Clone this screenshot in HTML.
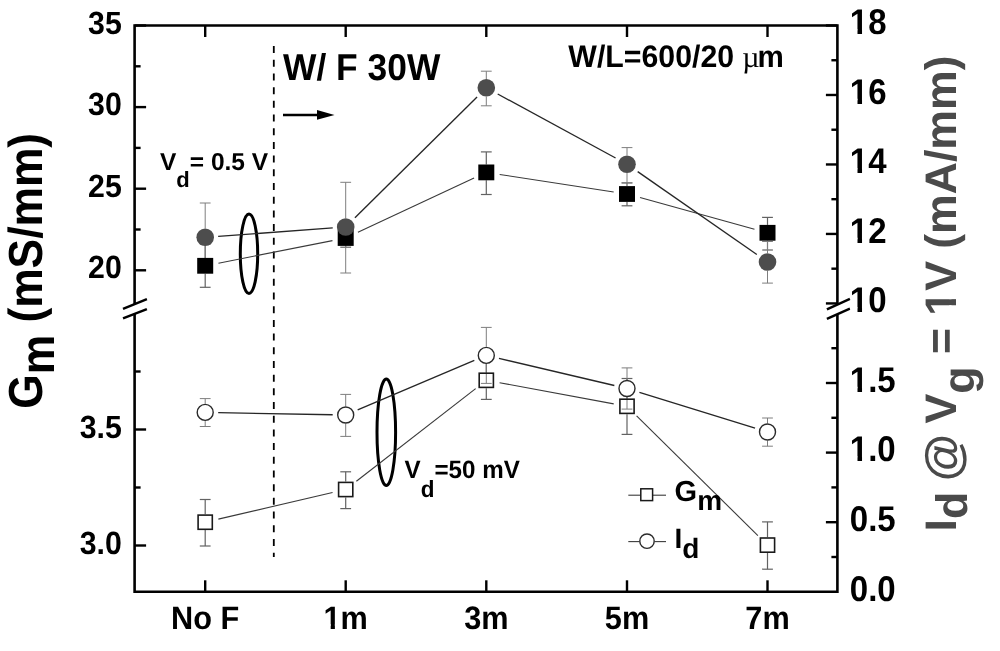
<!DOCTYPE html>
<html><head><meta charset="utf-8"><style>
html,body{margin:0;padding:0;background:#fff;}
body{width:1000px;height:651px;overflow:hidden;}
svg{display:block;will-change:transform;}
</style></head><body>
<svg width="1000" height="651" viewBox="0 0 1000 651">
<rect width="1000" height="651" fill="#fff"/>
<path d="M134.6,304.0 L134.6,25.5 L837.4,25.5 L837.4,304.5" fill="none" stroke="#000" stroke-width="2.6" stroke-linejoin="miter"/>
<path d="M134.6,313.7 L134.6,591.8 L837.4,591.8 L837.4,314.2" fill="none" stroke="#000" stroke-width="2.6" stroke-linejoin="miter"/>
<line x1="123.00" y1="308.80" x2="146.90" y2="299.20" stroke="#000" stroke-width="2.4" />
<line x1="123.00" y1="318.40" x2="146.90" y2="309.10" stroke="#000" stroke-width="2.4" />
<line x1="826.90" y1="309.30" x2="849.90" y2="298.90" stroke="#000" stroke-width="2.4" />
<line x1="826.90" y1="318.90" x2="849.90" y2="308.70" stroke="#000" stroke-width="2.4" />
<line x1="205.20" y1="591.80" x2="205.20" y2="580.30" stroke="#000" stroke-width="2.4" />
<line x1="205.20" y1="25.50" x2="205.20" y2="37.00" stroke="#000" stroke-width="2.4" />
<line x1="345.70" y1="591.80" x2="345.70" y2="580.30" stroke="#000" stroke-width="2.4" />
<line x1="345.70" y1="25.50" x2="345.70" y2="37.00" stroke="#000" stroke-width="2.4" />
<line x1="486.30" y1="591.80" x2="486.30" y2="580.30" stroke="#000" stroke-width="2.4" />
<line x1="486.30" y1="25.50" x2="486.30" y2="37.00" stroke="#000" stroke-width="2.4" />
<line x1="627.00" y1="591.80" x2="627.00" y2="580.30" stroke="#000" stroke-width="2.4" />
<line x1="627.00" y1="25.50" x2="627.00" y2="37.00" stroke="#000" stroke-width="2.4" />
<line x1="767.50" y1="591.80" x2="767.50" y2="580.30" stroke="#000" stroke-width="2.4" />
<line x1="767.50" y1="25.50" x2="767.50" y2="37.00" stroke="#000" stroke-width="2.4" />
<line x1="134.60" y1="25.50" x2="146.10" y2="25.50" stroke="#000" stroke-width="2.4" />
<line x1="134.60" y1="107.10" x2="146.10" y2="107.10" stroke="#000" stroke-width="2.4" />
<line x1="134.60" y1="188.70" x2="146.10" y2="188.70" stroke="#000" stroke-width="2.4" />
<line x1="134.60" y1="270.30" x2="146.10" y2="270.30" stroke="#000" stroke-width="2.4" />
<line x1="134.60" y1="66.30" x2="140.60" y2="66.30" stroke="#000" stroke-width="2.4" />
<line x1="134.60" y1="147.90" x2="140.60" y2="147.90" stroke="#000" stroke-width="2.4" />
<line x1="134.60" y1="229.50" x2="140.60" y2="229.50" stroke="#000" stroke-width="2.4" />
<line x1="134.60" y1="429.50" x2="146.10" y2="429.50" stroke="#000" stroke-width="2.4" />
<line x1="134.60" y1="545.50" x2="146.10" y2="545.50" stroke="#000" stroke-width="2.4" />
<line x1="134.60" y1="371.50" x2="140.60" y2="371.50" stroke="#000" stroke-width="2.4" />
<line x1="134.60" y1="487.50" x2="140.60" y2="487.50" stroke="#000" stroke-width="2.4" />
<line x1="837.40" y1="25.50" x2="825.90" y2="25.50" stroke="#000" stroke-width="2.4" />
<line x1="837.40" y1="94.98" x2="825.90" y2="94.98" stroke="#000" stroke-width="2.4" />
<line x1="837.40" y1="164.46" x2="825.90" y2="164.46" stroke="#000" stroke-width="2.4" />
<line x1="837.40" y1="233.94" x2="825.90" y2="233.94" stroke="#000" stroke-width="2.4" />
<line x1="837.40" y1="303.42" x2="825.90" y2="303.42" stroke="#000" stroke-width="2.4" />
<line x1="837.40" y1="60.24" x2="831.40" y2="60.24" stroke="#000" stroke-width="2.4" />
<line x1="837.40" y1="129.72" x2="831.40" y2="129.72" stroke="#000" stroke-width="2.4" />
<line x1="837.40" y1="199.20" x2="831.40" y2="199.20" stroke="#000" stroke-width="2.4" />
<line x1="837.40" y1="268.68" x2="831.40" y2="268.68" stroke="#000" stroke-width="2.4" />
<line x1="837.40" y1="522.20" x2="825.90" y2="522.20" stroke="#000" stroke-width="2.4" />
<line x1="837.40" y1="452.60" x2="825.90" y2="452.60" stroke="#000" stroke-width="2.4" />
<line x1="837.40" y1="383.00" x2="825.90" y2="383.00" stroke="#000" stroke-width="2.4" />
<line x1="837.40" y1="557.00" x2="831.40" y2="557.00" stroke="#000" stroke-width="2.4" />
<line x1="837.40" y1="487.40" x2="831.40" y2="487.40" stroke="#000" stroke-width="2.4" />
<line x1="837.40" y1="417.80" x2="831.40" y2="417.80" stroke="#000" stroke-width="2.4" />
<line x1="837.40" y1="348.20" x2="831.40" y2="348.20" stroke="#000" stroke-width="2.4" />
<text transform="translate(121.80,33.50) scale(1.0,1.06)" font-family="&quot;Liberation Sans&quot;, sans-serif" font-weight="bold" font-size="30.3" text-anchor="end" fill="#000" text-rendering="geometricPrecision" style="font-kerning:none" xml:space="preserve">35</text>
<text transform="translate(121.80,115.10) scale(1.0,1.06)" font-family="&quot;Liberation Sans&quot;, sans-serif" font-weight="bold" font-size="30.3" text-anchor="end" fill="#000" text-rendering="geometricPrecision" style="font-kerning:none" xml:space="preserve">30</text>
<text transform="translate(121.80,196.70) scale(1.0,1.06)" font-family="&quot;Liberation Sans&quot;, sans-serif" font-weight="bold" font-size="30.3" text-anchor="end" fill="#000" text-rendering="geometricPrecision" style="font-kerning:none" xml:space="preserve">25</text>
<text transform="translate(121.80,278.30) scale(1.0,1.06)" font-family="&quot;Liberation Sans&quot;, sans-serif" font-weight="bold" font-size="30.3" text-anchor="end" fill="#000" text-rendering="geometricPrecision" style="font-kerning:none" xml:space="preserve">20</text>
<text transform="translate(121.80,437.50) scale(1.0,1.06)" font-family="&quot;Liberation Sans&quot;, sans-serif" font-weight="bold" font-size="30.3" text-anchor="end" fill="#000" text-rendering="geometricPrecision" style="font-kerning:none" xml:space="preserve">3.5</text>
<text transform="translate(121.80,553.50) scale(1.0,1.06)" font-family="&quot;Liberation Sans&quot;, sans-serif" font-weight="bold" font-size="30.3" text-anchor="end" fill="#000" text-rendering="geometricPrecision" style="font-kerning:none" xml:space="preserve">3.0</text>
<text transform="translate(849.80,34.30) scale(1.0,1.08)" font-family="&quot;Liberation Sans&quot;, sans-serif" font-weight="bold" font-size="33" text-anchor="start" fill="#000" text-rendering="geometricPrecision" style="font-kerning:none" xml:space="preserve">18</text>
<text transform="translate(849.80,103.78) scale(1.0,1.08)" font-family="&quot;Liberation Sans&quot;, sans-serif" font-weight="bold" font-size="33" text-anchor="start" fill="#000" text-rendering="geometricPrecision" style="font-kerning:none" xml:space="preserve">16</text>
<text transform="translate(849.80,173.26) scale(1.0,1.08)" font-family="&quot;Liberation Sans&quot;, sans-serif" font-weight="bold" font-size="33" text-anchor="start" fill="#000" text-rendering="geometricPrecision" style="font-kerning:none" xml:space="preserve">14</text>
<text transform="translate(849.80,242.74) scale(1.0,1.08)" font-family="&quot;Liberation Sans&quot;, sans-serif" font-weight="bold" font-size="33" text-anchor="start" fill="#000" text-rendering="geometricPrecision" style="font-kerning:none" xml:space="preserve">12</text>
<text transform="translate(849.80,312.22) scale(1.0,1.08)" font-family="&quot;Liberation Sans&quot;, sans-serif" font-weight="bold" font-size="33" text-anchor="start" fill="#000" text-rendering="geometricPrecision" style="font-kerning:none" xml:space="preserve">10</text>
<text transform="translate(849.80,391.80) scale(1.0,1.08)" font-family="&quot;Liberation Sans&quot;, sans-serif" font-weight="bold" font-size="33" text-anchor="start" fill="#000" text-rendering="geometricPrecision" style="font-kerning:none" xml:space="preserve">1.5</text>
<text transform="translate(849.80,461.40) scale(1.0,1.08)" font-family="&quot;Liberation Sans&quot;, sans-serif" font-weight="bold" font-size="33" text-anchor="start" fill="#000" text-rendering="geometricPrecision" style="font-kerning:none" xml:space="preserve">1.0</text>
<text transform="translate(849.80,531.00) scale(1.0,1.08)" font-family="&quot;Liberation Sans&quot;, sans-serif" font-weight="bold" font-size="33" text-anchor="start" fill="#000" text-rendering="geometricPrecision" style="font-kerning:none" xml:space="preserve">0.5</text>
<text transform="translate(849.80,600.60) scale(1.0,1.08)" font-family="&quot;Liberation Sans&quot;, sans-serif" font-weight="bold" font-size="33" text-anchor="start" fill="#000" text-rendering="geometricPrecision" style="font-kerning:none" xml:space="preserve">0.0</text>
<text transform="translate(205.20,628.80) scale(1.0,1.06)" font-family="&quot;Liberation Sans&quot;, sans-serif" font-weight="bold" font-size="30.7" text-anchor="middle" fill="#000" text-rendering="geometricPrecision" style="font-kerning:none" xml:space="preserve">No F</text>
<text transform="translate(345.70,628.80) scale(1.0,1.06)" font-family="&quot;Liberation Sans&quot;, sans-serif" font-weight="bold" font-size="30.7" text-anchor="middle" fill="#000" text-rendering="geometricPrecision" style="font-kerning:none" xml:space="preserve">1m</text>
<text transform="translate(486.30,628.80) scale(1.0,1.06)" font-family="&quot;Liberation Sans&quot;, sans-serif" font-weight="bold" font-size="30.7" text-anchor="middle" fill="#000" text-rendering="geometricPrecision" style="font-kerning:none" xml:space="preserve">3m</text>
<text transform="translate(627.00,628.80) scale(1.0,1.06)" font-family="&quot;Liberation Sans&quot;, sans-serif" font-weight="bold" font-size="30.7" text-anchor="middle" fill="#000" text-rendering="geometricPrecision" style="font-kerning:none" xml:space="preserve">5m</text>
<text transform="translate(767.50,628.80) scale(1.0,1.06)" font-family="&quot;Liberation Sans&quot;, sans-serif" font-weight="bold" font-size="30.7" text-anchor="middle" fill="#000" text-rendering="geometricPrecision" style="font-kerning:none" xml:space="preserve">7m</text>
<text transform="translate(42.20,408.80) rotate(-90) scale(0.985,1.062)" font-family="&quot;Liberation Sans&quot;, sans-serif" font-weight="bold" font-size="45" text-anchor="start" fill="#000" text-rendering="geometricPrecision" style="font-kerning:none" xml:space="preserve">G<tspan dy="11">m</tspan><tspan dy="-11"> (mS/mm)</tspan></text>
<text transform="translate(955.50,531.40) rotate(-90) scale(1.0,0.99)" font-family="&quot;Liberation Sans&quot;, sans-serif" font-weight="bold" font-size="44.6" text-anchor="start" fill="#4a4a4a" text-rendering="geometricPrecision" style="font-kerning:none" xml:space="preserve">I<tspan dy="12">d</tspan><tspan dy="-12"> </tspan><tspan font-size="48.5" dx="-1.9" dy="4">@</tspan><tspan dx="-1.9" dy="-4"> V</tspan><tspan dy="19">g</tspan><tspan dy="-19"> = 1V (mA/mm)</tspan></text>
<line x1="273.8" y1="46.1" x2="273.8" y2="557" stroke="#000" stroke-width="1.8" stroke-dasharray="7 6.69"/>
<text transform="translate(283.00,80.10) scale(1,1.055)" font-family="&quot;Liberation Sans&quot;, sans-serif" font-weight="bold" font-size="35.4" text-anchor="start" fill="#000" text-rendering="geometricPrecision" style="font-kerning:none" xml:space="preserve">W/ F 30W</text>
<line x1="283.00" y1="115.00" x2="320.00" y2="115.00" stroke="#000" stroke-width="2.6" />
<path d="M317,110 L334.5,115 L317,119.8 Z" fill="#000"/>
<text transform="translate(568.30,66.70) scale(1,1.03)" font-family="&quot;Liberation Sans&quot;, sans-serif" font-weight="bold" font-size="30.3" text-anchor="start" fill="#000" text-rendering="geometricPrecision" style="font-kerning:none" xml:space="preserve">W/L=600/20</text>
<text transform="translate(742.30,66.70)" font-family="&quot;Liberation Serif&quot;, serif" font-size="30" text-anchor="start" fill="#000" text-rendering="geometricPrecision" style="font-kerning:none" xml:space="preserve"><tspan font-family="&quot;Liberation Serif&quot;, serif" font-weight="normal">µ</tspan></text>
<text transform="translate(757.60,66.70) scale(1,1.04)" font-family="&quot;Liberation Sans&quot;, sans-serif" font-weight="bold" font-size="29.6" text-anchor="start" fill="#000" text-rendering="geometricPrecision" style="font-kerning:none" xml:space="preserve">m</text>
<text transform="translate(160.00,169.50)" font-family="&quot;Liberation Sans&quot;, sans-serif" font-weight="bold" font-size="24.5" text-anchor="start" fill="#000" text-rendering="geometricPrecision" style="font-kerning:none" xml:space="preserve">V<tspan font-size="22" dy="17.3">d</tspan><tspan dy="-17.3">= 0.5 V</tspan></text>
<text transform="translate(404.50,478.00) scale(1,1.04)" font-family="&quot;Liberation Sans&quot;, sans-serif" font-weight="bold" font-size="24.2" text-anchor="start" fill="#000" text-rendering="geometricPrecision" style="font-kerning:none" xml:space="preserve">V<tspan font-size="22.5" dy="18">d</tspan><tspan dy="-18">=50 mV</tspan></text>
<ellipse cx="249" cy="253.8" rx="8.7" ry="39.7" fill="none" stroke="#000" stroke-width="3"/>
<ellipse cx="386.3" cy="432.3" rx="9.3" ry="53.2" fill="none" stroke="#000" stroke-width="3"/>
<line x1="205.20" y1="244.30" x2="205.20" y2="257.90" stroke="#626262" stroke-width="1.2" />
<line x1="205.20" y1="273.70" x2="205.20" y2="287.30" stroke="#626262" stroke-width="1.2" />
<line x1="199.80" y1="244.30" x2="210.60" y2="244.30" stroke="#626262" stroke-width="1.2" />
<line x1="199.80" y1="287.30" x2="210.60" y2="287.30" stroke="#626262" stroke-width="1.2" />
<line x1="345.70" y1="228.00" x2="345.70" y2="230.10" stroke="#626262" stroke-width="1.2" />
<line x1="345.70" y1="245.90" x2="345.70" y2="247.20" stroke="#626262" stroke-width="1.2" />
<line x1="340.30" y1="228.00" x2="351.10" y2="228.00" stroke="#626262" stroke-width="1.2" />
<line x1="340.30" y1="247.20" x2="351.10" y2="247.20" stroke="#626262" stroke-width="1.2" />
<line x1="486.30" y1="151.90" x2="486.30" y2="164.50" stroke="#626262" stroke-width="1.2" />
<line x1="486.30" y1="180.30" x2="486.30" y2="194.50" stroke="#626262" stroke-width="1.2" />
<line x1="480.90" y1="151.90" x2="491.70" y2="151.90" stroke="#626262" stroke-width="1.2" />
<line x1="480.90" y1="194.50" x2="491.70" y2="194.50" stroke="#626262" stroke-width="1.2" />
<line x1="627.00" y1="182.90" x2="627.00" y2="186.10" stroke="#626262" stroke-width="1.2" />
<line x1="627.00" y1="201.90" x2="627.00" y2="205.80" stroke="#626262" stroke-width="1.2" />
<line x1="621.60" y1="182.90" x2="632.40" y2="182.90" stroke="#626262" stroke-width="1.2" />
<line x1="621.60" y1="205.80" x2="632.40" y2="205.80" stroke="#626262" stroke-width="1.2" />
<line x1="767.50" y1="217.40" x2="767.50" y2="224.90" stroke="#626262" stroke-width="1.2" />
<line x1="767.50" y1="240.70" x2="767.50" y2="250.00" stroke="#626262" stroke-width="1.2" />
<line x1="762.10" y1="217.40" x2="772.90" y2="217.40" stroke="#626262" stroke-width="1.2" />
<line x1="762.10" y1="250.00" x2="772.90" y2="250.00" stroke="#626262" stroke-width="1.2" />
<line x1="205.20" y1="203.00" x2="205.20" y2="228.50" stroke="#7e7e7e" stroke-width="1.0" />
<line x1="205.20" y1="246.10" x2="205.20" y2="271.50" stroke="#7e7e7e" stroke-width="1.0" />
<line x1="199.80" y1="203.00" x2="210.60" y2="203.00" stroke="#7e7e7e" stroke-width="1.0" />
<line x1="199.80" y1="271.50" x2="210.60" y2="271.50" stroke="#7e7e7e" stroke-width="1.0" />
<line x1="345.70" y1="182.30" x2="345.70" y2="218.20" stroke="#7e7e7e" stroke-width="1.0" />
<line x1="345.70" y1="235.80" x2="345.70" y2="273.00" stroke="#7e7e7e" stroke-width="1.0" />
<line x1="340.30" y1="182.30" x2="351.10" y2="182.30" stroke="#7e7e7e" stroke-width="1.0" />
<line x1="340.30" y1="273.00" x2="351.10" y2="273.00" stroke="#7e7e7e" stroke-width="1.0" />
<line x1="486.30" y1="71.20" x2="486.30" y2="79.00" stroke="#7e7e7e" stroke-width="1.0" />
<line x1="486.30" y1="96.60" x2="486.30" y2="105.80" stroke="#7e7e7e" stroke-width="1.0" />
<line x1="480.90" y1="71.20" x2="491.70" y2="71.20" stroke="#7e7e7e" stroke-width="1.0" />
<line x1="480.90" y1="105.80" x2="491.70" y2="105.80" stroke="#7e7e7e" stroke-width="1.0" />
<line x1="627.00" y1="147.60" x2="627.00" y2="155.40" stroke="#7e7e7e" stroke-width="1.0" />
<line x1="627.00" y1="173.00" x2="627.00" y2="182.90" stroke="#7e7e7e" stroke-width="1.0" />
<line x1="621.60" y1="147.60" x2="632.40" y2="147.60" stroke="#7e7e7e" stroke-width="1.0" />
<line x1="621.60" y1="182.90" x2="632.40" y2="182.90" stroke="#7e7e7e" stroke-width="1.0" />
<line x1="767.50" y1="241.50" x2="767.50" y2="253.20" stroke="#7e7e7e" stroke-width="1.0" />
<line x1="767.50" y1="270.80" x2="767.50" y2="283.10" stroke="#7e7e7e" stroke-width="1.0" />
<line x1="762.10" y1="241.50" x2="772.90" y2="241.50" stroke="#7e7e7e" stroke-width="1.0" />
<line x1="762.10" y1="283.10" x2="772.90" y2="283.10" stroke="#7e7e7e" stroke-width="1.0" />
<line x1="205.20" y1="499.50" x2="205.20" y2="514.30" stroke="#626262" stroke-width="1.2" />
<line x1="205.20" y1="530.10" x2="205.20" y2="546.00" stroke="#626262" stroke-width="1.2" />
<line x1="199.80" y1="499.50" x2="210.60" y2="499.50" stroke="#626262" stroke-width="1.2" />
<line x1="199.80" y1="546.00" x2="210.60" y2="546.00" stroke="#626262" stroke-width="1.2" />
<line x1="345.70" y1="471.80" x2="345.70" y2="481.60" stroke="#626262" stroke-width="1.2" />
<line x1="345.70" y1="497.40" x2="345.70" y2="508.60" stroke="#626262" stroke-width="1.2" />
<line x1="340.30" y1="471.80" x2="351.10" y2="471.80" stroke="#626262" stroke-width="1.2" />
<line x1="340.30" y1="508.60" x2="351.10" y2="508.60" stroke="#626262" stroke-width="1.2" />
<line x1="486.30" y1="361.30" x2="486.30" y2="372.40" stroke="#626262" stroke-width="1.2" />
<line x1="486.30" y1="388.20" x2="486.30" y2="399.40" stroke="#626262" stroke-width="1.2" />
<line x1="480.90" y1="361.30" x2="491.70" y2="361.30" stroke="#626262" stroke-width="1.2" />
<line x1="480.90" y1="399.40" x2="491.70" y2="399.40" stroke="#626262" stroke-width="1.2" />
<line x1="627.00" y1="378.50" x2="627.00" y2="398.40" stroke="#626262" stroke-width="1.2" />
<line x1="627.00" y1="414.20" x2="627.00" y2="434.40" stroke="#626262" stroke-width="1.2" />
<line x1="621.60" y1="378.50" x2="632.40" y2="378.50" stroke="#626262" stroke-width="1.2" />
<line x1="621.60" y1="434.40" x2="632.40" y2="434.40" stroke="#626262" stroke-width="1.2" />
<line x1="767.50" y1="521.90" x2="767.50" y2="537.20" stroke="#626262" stroke-width="1.2" />
<line x1="767.50" y1="553.00" x2="767.50" y2="569.20" stroke="#626262" stroke-width="1.2" />
<line x1="762.10" y1="521.90" x2="772.90" y2="521.90" stroke="#626262" stroke-width="1.2" />
<line x1="762.10" y1="569.20" x2="772.90" y2="569.20" stroke="#626262" stroke-width="1.2" />
<line x1="205.20" y1="398.60" x2="205.20" y2="403.70" stroke="#7e7e7e" stroke-width="1.0" />
<line x1="205.20" y1="421.10" x2="205.20" y2="426.50" stroke="#7e7e7e" stroke-width="1.0" />
<line x1="199.80" y1="398.60" x2="210.60" y2="398.60" stroke="#7e7e7e" stroke-width="1.0" />
<line x1="199.80" y1="426.50" x2="210.60" y2="426.50" stroke="#7e7e7e" stroke-width="1.0" />
<line x1="345.70" y1="394.40" x2="345.70" y2="406.30" stroke="#7e7e7e" stroke-width="1.0" />
<line x1="345.70" y1="423.70" x2="345.70" y2="436.40" stroke="#7e7e7e" stroke-width="1.0" />
<line x1="340.30" y1="394.40" x2="351.10" y2="394.40" stroke="#7e7e7e" stroke-width="1.0" />
<line x1="340.30" y1="436.40" x2="351.10" y2="436.40" stroke="#7e7e7e" stroke-width="1.0" />
<line x1="486.30" y1="327.40" x2="486.30" y2="346.70" stroke="#7e7e7e" stroke-width="1.0" />
<line x1="486.30" y1="364.10" x2="486.30" y2="383.40" stroke="#7e7e7e" stroke-width="1.0" />
<line x1="480.90" y1="327.40" x2="491.70" y2="327.40" stroke="#7e7e7e" stroke-width="1.0" />
<line x1="480.90" y1="383.40" x2="491.70" y2="383.40" stroke="#7e7e7e" stroke-width="1.0" />
<line x1="627.00" y1="367.90" x2="627.00" y2="379.80" stroke="#7e7e7e" stroke-width="1.0" />
<line x1="627.00" y1="397.20" x2="627.00" y2="409.10" stroke="#7e7e7e" stroke-width="1.0" />
<line x1="621.60" y1="367.90" x2="632.40" y2="367.90" stroke="#7e7e7e" stroke-width="1.0" />
<line x1="621.60" y1="409.10" x2="632.40" y2="409.10" stroke="#7e7e7e" stroke-width="1.0" />
<line x1="767.50" y1="418.00" x2="767.50" y2="423.30" stroke="#7e7e7e" stroke-width="1.0" />
<line x1="767.50" y1="440.70" x2="767.50" y2="446.20" stroke="#7e7e7e" stroke-width="1.0" />
<line x1="762.10" y1="418.00" x2="772.90" y2="418.00" stroke="#7e7e7e" stroke-width="1.0" />
<line x1="762.10" y1="446.20" x2="772.90" y2="446.20" stroke="#7e7e7e" stroke-width="1.0" />
<line x1="218.44" y1="263.18" x2="332.46" y2="240.62" stroke="#3a3a3a" stroke-width="1.1" />
<line x1="357.93" y1="232.29" x2="474.07" y2="178.11" stroke="#3a3a3a" stroke-width="1.1" />
<line x1="499.64" y1="174.45" x2="613.66" y2="191.95" stroke="#3a3a3a" stroke-width="1.1" />
<line x1="640.01" y1="197.59" x2="754.49" y2="229.21" stroke="#3a3a3a" stroke-width="1.1" />
<rect x="197.20" y="257.90" width="16" height="15.8" fill="#000"/>
<rect x="337.70" y="230.10" width="16" height="15.8" fill="#000"/>
<rect x="478.30" y="164.50" width="16" height="15.8" fill="#000"/>
<rect x="619.00" y="186.10" width="16" height="15.8" fill="#000"/>
<rect x="759.50" y="224.90" width="16" height="15.8" fill="#000"/>
<line x1="218.17" y1="236.35" x2="332.73" y2="227.95" stroke="#262626" stroke-width="1.35" />
<line x1="354.94" y1="217.85" x2="477.06" y2="96.95" stroke="#262626" stroke-width="1.35" />
<line x1="497.72" y1="94.00" x2="615.58" y2="158.00" stroke="#262626" stroke-width="1.35" />
<line x1="637.67" y1="171.63" x2="756.83" y2="254.57" stroke="#262626" stroke-width="1.35" />
<circle cx="205.20" cy="237.30" r="8.8" fill="#4d4d4d"/>
<circle cx="345.70" cy="227.00" r="8.8" fill="#4d4d4d"/>
<circle cx="486.30" cy="87.80" r="8.8" fill="#4d4d4d"/>
<circle cx="627.00" cy="164.20" r="8.8" fill="#4d4d4d"/>
<circle cx="767.50" cy="262.00" r="8.8" fill="#4d4d4d"/>
<line x1="218.35" y1="519.14" x2="332.55" y2="492.56" stroke="#3a3a3a" stroke-width="1.1" />
<line x1="356.36" y1="481.22" x2="475.64" y2="388.58" stroke="#3a3a3a" stroke-width="1.1" />
<line x1="499.58" y1="382.75" x2="613.72" y2="403.85" stroke="#3a3a3a" stroke-width="1.1" />
<line x1="636.60" y1="415.79" x2="757.90" y2="535.61" stroke="#3a3a3a" stroke-width="1.1" />
<rect x="198.10" y="515.10" width="14.2" height="14.2" fill="none" stroke="#1a1a1a" stroke-width="1.6"/>
<rect x="338.60" y="482.40" width="14.2" height="14.2" fill="none" stroke="#1a1a1a" stroke-width="1.6"/>
<rect x="479.20" y="373.20" width="14.2" height="14.2" fill="none" stroke="#1a1a1a" stroke-width="1.6"/>
<rect x="619.90" y="399.20" width="14.2" height="14.2" fill="none" stroke="#1a1a1a" stroke-width="1.6"/>
<rect x="760.40" y="538.00" width="14.2" height="14.2" fill="none" stroke="#1a1a1a" stroke-width="1.6"/>
<line x1="218.20" y1="412.64" x2="332.70" y2="414.76" stroke="#262626" stroke-width="1.35" />
<line x1="357.67" y1="409.93" x2="474.33" y2="360.47" stroke="#262626" stroke-width="1.35" />
<line x1="498.95" y1="358.38" x2="614.35" y2="385.52" stroke="#262626" stroke-width="1.35" />
<line x1="639.42" y1="392.34" x2="755.08" y2="428.16" stroke="#262626" stroke-width="1.35" />
<circle cx="205.20" cy="412.40" r="8.0" fill="#fff" stroke="#2a2a2a" stroke-width="1.4"/>
<circle cx="345.70" cy="415.00" r="8.0" fill="#fff" stroke="#2a2a2a" stroke-width="1.4"/>
<circle cx="486.30" cy="355.40" r="8.0" fill="#fff" stroke="#2a2a2a" stroke-width="1.4"/>
<circle cx="627.00" cy="388.50" r="8.0" fill="#fff" stroke="#2a2a2a" stroke-width="1.4"/>
<circle cx="767.50" cy="432.00" r="8.0" fill="#fff" stroke="#2a2a2a" stroke-width="1.4"/>
<line x1="628.30" y1="495.20" x2="640.50" y2="495.20" stroke="#3a3a3a" stroke-width="1.1" />
<line x1="653.00" y1="495.20" x2="666.00" y2="495.20" stroke="#3a3a3a" stroke-width="1.1" />
<rect x="640.8" y="488.8" width="11.8" height="11.8" fill="none" stroke="#1a1a1a" stroke-width="1.5"/>
<line x1="628.30" y1="541.60" x2="639.50" y2="541.60" stroke="#3a3a3a" stroke-width="1.1" />
<line x1="654.50" y1="541.60" x2="666.00" y2="541.60" stroke="#3a3a3a" stroke-width="1.1" />
<circle cx="647" cy="541.2" r="7.2" fill="#fff" stroke="#2a2a2a" stroke-width="1.4"/>
<text transform="translate(674.50,500.80)" font-family="&quot;Liberation Sans&quot;, sans-serif" font-weight="bold" font-size="29" text-anchor="start" fill="#000" text-rendering="geometricPrecision" style="font-kerning:none" xml:space="preserve">G<tspan font-size="28" dx="0.3" dy="9.5">m</tspan></text>
<text transform="translate(674.50,547.60)" font-family="&quot;Liberation Sans&quot;, sans-serif" font-weight="bold" font-size="28" text-anchor="start" fill="#000" text-rendering="geometricPrecision" style="font-kerning:none" xml:space="preserve">I<tspan dy="10.4">d</tspan></text>
<rect transform="translate(849.80,34.30) scale(1.0,1.08)" x="0.64" y="-4.67" width="7.06" height="5.80" fill="#fff"/>
<rect transform="translate(849.80,34.30) scale(1.0,1.08)" x="12.23" y="-4.67" width="6.30" height="5.80" fill="#fff"/>
<rect transform="translate(849.80,103.78) scale(1.0,1.08)" x="0.64" y="-4.67" width="7.06" height="5.80" fill="#fff"/>
<rect transform="translate(849.80,103.78) scale(1.0,1.08)" x="12.23" y="-4.67" width="6.30" height="5.80" fill="#fff"/>
<rect transform="translate(849.80,173.26) scale(1.0,1.08)" x="0.64" y="-4.67" width="7.06" height="5.80" fill="#fff"/>
<rect transform="translate(849.80,173.26) scale(1.0,1.08)" x="12.23" y="-4.67" width="6.30" height="5.80" fill="#fff"/>
<rect transform="translate(849.80,242.74) scale(1.0,1.08)" x="0.64" y="-4.67" width="7.06" height="5.80" fill="#fff"/>
<rect transform="translate(849.80,242.74) scale(1.0,1.08)" x="12.23" y="-4.67" width="6.30" height="5.80" fill="#fff"/>
<rect transform="translate(849.80,312.22) scale(1.0,1.08)" x="0.64" y="-4.67" width="7.06" height="5.80" fill="#fff"/>
<rect transform="translate(849.80,312.22) scale(1.0,1.08)" x="12.23" y="-4.67" width="6.30" height="5.80" fill="#fff"/>
<rect transform="translate(849.80,391.80) scale(1.0,1.08)" x="0.64" y="-4.67" width="7.06" height="5.80" fill="#fff"/>
<rect transform="translate(849.80,391.80) scale(1.0,1.08)" x="12.23" y="-4.67" width="6.30" height="5.80" fill="#fff"/>
<rect transform="translate(849.80,461.40) scale(1.0,1.08)" x="0.64" y="-4.67" width="7.06" height="5.80" fill="#fff"/>
<rect transform="translate(849.80,461.40) scale(1.0,1.08)" x="12.23" y="-4.67" width="6.30" height="5.80" fill="#fff"/>
<rect transform="translate(345.70,628.80) scale(1.0,1.06)" x="-21.59" y="-4.35" width="6.57" height="5.40" fill="#fff"/>
<rect transform="translate(345.70,628.80) scale(1.0,1.06)" x="-10.81" y="-4.35" width="5.86" height="5.40" fill="#fff"/>
<rect transform="translate(955.50,531.40) rotate(-90) scale(1.0,0.99)" x="216.60" y="-6.32" width="9.54" height="7.84" fill="#fff"/>
<rect transform="translate(955.50,531.40) rotate(-90) scale(1.0,0.99)" x="232.26" y="-6.32" width="8.51" height="7.84" fill="#fff"/>
</svg>
</body></html>
